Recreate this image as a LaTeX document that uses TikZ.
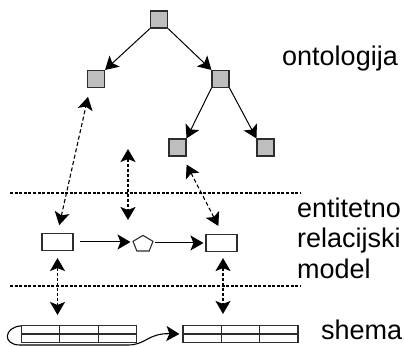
\documentclass[tikz,border=0pt]{standalone}
\usepackage{fontspec}
\setmainfont{Liberation Sans}
\usetikzlibrary{arrows.meta,shapes.geometric,calc}
\definecolor{sqfill}{RGB}{190,190,190}
\definecolor{edge}{RGB}{45,45,45}
\tikzset{
  hd/.tip={Stealth[length=13pt,width=15pt,inset=3pt]},
  sq/.style={draw=edge, fill=sqfill, line width=1.1pt, minimum size=17pt, inner sep=0pt},
  erbox/.style={draw=edge, line width=1.1pt, minimum width=31pt, minimum height=17pt, inner sep=0pt},
  pent/.style={draw=edge, line width=1.1pt, regular polygon, regular polygon sides=5, minimum size=21pt, inner sep=0pt},
  tbl/.style={draw=edge, line width=1.1pt, minimum width=115pt, minimum height=17pt, inner sep=0pt},
  tip/.style={-hd},
  tree/.style={tip, line width=1pt},
  dbl/.style={hd-hd, line width=1.1pt, dash pattern=on 4pt off 2.5pt},
  dblthick/.style={dbl, line width=1.7pt, dash pattern=on 3pt off 2pt},
  sep/.style={line width=2.4pt, dash pattern=on 3pt off 1.6pt},
  lbl/.style={font=\fontsize{27}{31}\selectfont, inner sep=0pt, anchor=base west},
}
\begin{document}
\begin{tikzpicture}[x=1pt,y=-1pt]
\useasboundingbox (0,0) rectangle (404,347);
% ontology tree
\node[sq] (ot) at (159,19.5) {};
\node[sq] (ol) at (96,79) {};
\node[sq] (or) at (220.5,79) {};
\node[sq] (oll) at (177.5,147.5) {};
\node[sq] (olr) at (265.5,147.5) {};
\draw[tree] (ot.south west) -- (ol.north east);
\draw[tree] (ot.south east) -- (or.north west);
\draw[tree] (or.south west) -- (oll.north east);
\draw[tree] (or.south east) -- (olr.north west);
% separators
\coordinate (s1a) at (10,193); \coordinate (s1b) at (300,193);
\coordinate (s2a) at (10,286); \coordinate (s2b) at (300,286);
\draw[sep] (s1a) -- (s1b);
\draw[sep] (s2a) -- (s2b);
% ER model
\node[erbox] (lr) at (57.5,242) {};
\node[pent, yscale=0.82, transform shape] (pg) at (143,244) {};
\node[erbox] (rr) at (221.5,243) {};
\draw[tree] ([xshift=6pt]lr.east) -- ([xshift=-3pt]lr.east -| pg.west);
\draw[tree] ([xshift=2pt]pg.east |- rr.west) -- ([xshift=-2pt]rr.west);
% schema tables
\node[tbl] (lt) at (79,334) {};
\node[tbl] (rt) at (240.5,334) {};
\foreach \t in {lt,rt}{
  \draw[edge, line width=1.1pt] (\t.west) -- (\t.east);
  \draw[edge, line width=1.1pt] ($(\t.north west)!1/3!(\t.north east)$) -- ($(\t.south west)!1/3!(\t.south east)$);
  \draw[edge, line width=1.1pt] ($(\t.north west)!2/3!(\t.north east)$) -- ($(\t.south west)!2/3!(\t.south east)$);
}
\draw[tip, line width=1.1pt] ([yshift=-1pt]lt.north west) .. controls (4,327) and (2,345) .. (20,345)
  -- (128,345) .. controls (146,345) and (148,333) .. ([xshift=-3pt]rt.west);
% dashed links
\draw[dbl, shorten <=8pt, shorten >=9pt] (lr.north) -- ([xshift=-6pt]ol.south);
\coordinate (m1) at (128,149); \coordinate (m2) at (128,220);
\draw[dblthick] (m1) -- (m2);
\draw[dbl, shorten <=9pt, shorten >=9pt] ([xshift=5pt]oll.south) -- ([xshift=1pt]rr.north);
\draw[dblthick, shorten <=7pt, shorten >=10pt] (lr.south) -- (lr.south |- lt.north);
\draw[dblthick, shorten <=6pt, shorten >=11pt] ([xshift=1.5pt]rr.south) -- ([xshift=1.5pt]rr.south |- rt.north);
% labels
\node[lbl] (l1) at (282,66) {ontologija};
\node[lbl] (l2) at (297,218) {entitetno};
\node[lbl] (l3) at (297,248) {relacijski};
\node[lbl] (l4) at (297,278) {model};
\node[lbl] (l5) at (321,339) {shema};
\end{tikzpicture}
\end{document}
